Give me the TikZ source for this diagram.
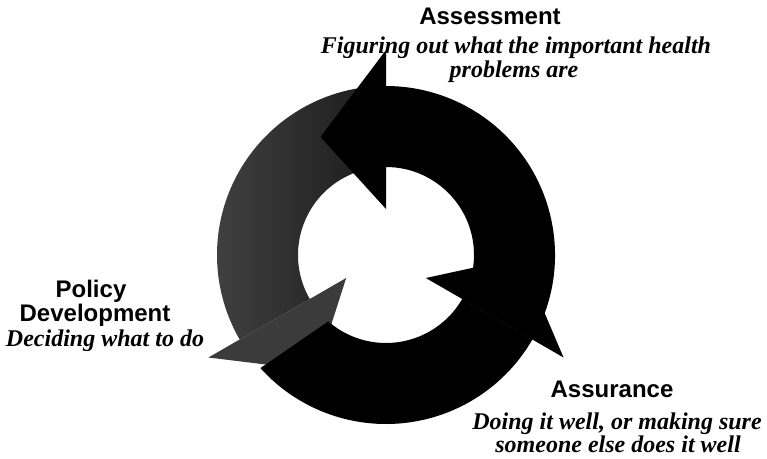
\documentclass[tikz,border=0pt]{standalone}
\usepackage{fontspec}
\setmainfont{Liberation Serif}
\newfontfamily\labelsans{Liberation Sans}
\begin{document}
\begin{tikzpicture}[x=0.75pt,y=-0.75pt,
  heading/.style={font=\labelsans\bfseries\fontsize{18}{18}\selectfont, inner sep=0pt, anchor=base},
  detail/.style={font=\bfseries\itshape\fontsize{18}{18}\selectfont, inner sep=0pt, anchor=base},
  darkpart/.style={fill=black},
  greypart/.style={left color=black!75, right color=black!90},
  greyhead/.style={fill=black!77}]
\useasboundingbox (0,0) rectangle (767,458);

% ring of three curved arrows turning counter-clockwise
\begin{scope}[shift={(386,255)}, yscale=-1]
  \def\Ro{169}\def\Ri{88}
  % grey arrow (left): body and head, lying underneath the black arrows
  \path[greypart] (90:\Ro) arc[start angle=90, end angle=210, radius=\Ro]
        -- (210:\Ri) arc[start angle=210, end angle=90, radius=\Ri] -- cycle;
  \path[greyhead] (210:205) -- (239:135) -- (210:46) -- cycle;
  % black arrow (bottom): its tail cuts slantwise across the grey head
  \path[darkpart] (222:\Ro) arc[start angle=222, end angle=330, radius=\Ro]
        -- (330:\Ri) arc[start angle=330, end angle=229, radius=\Ri] -- cycle;
  % black arrow (right)
  \path[darkpart] (-30:\Ro) arc[start angle=-30, end angle=90, radius=\Ro]
        -- (90:\Ri) arc[start angle=90, end angle=-30, radius=\Ri] -- cycle;
  % heads of the black arrows
  \path[darkpart] (90:205) -- (119:135) -- (90:46) -- cycle;
  \path[darkpart] (330:205) -- (359:135) -- (330:46) -- cycle;
\end{scope}

% labels
\node[heading] (assess) at (490,24) {Assessment};
\node[detail] (assessA) at (516,53) {Figuring out what the important health};
\node[detail] (assessB) at (514,77) {problems are};

\node[heading] (policyA) at (91,297) {Policy};
\node[heading] (policyB) at (95,321) {Development};
\node[detail] (policyC) at (105,346) {Deciding what to do};

\node[heading] (assure) at (612,397) {Assurance};
\node[detail] (assureA) at (617,429) {Doing it well, or making sure};
\node[detail] (assureB) at (618,452) {someone else does it well};
\end{tikzpicture}
\end{document}
